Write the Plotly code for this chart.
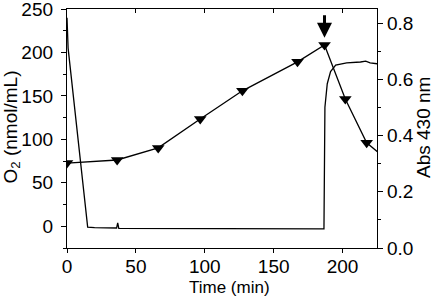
import plotly.graph_objects as go

# O2 electrode trace (left axis)
o2_time = [0, 0.8, 15, 20, 36, 36.8, 37.6, 60, 100, 150, 186.5, 187.2, 188.9, 191.3, 195, 203, 210, 213, 216.8, 220, 225]
o2_conc = [240, 205, -1, -1.5, -2, 4, -2.5, -2.5, -3, -3, -3, 137, 164, 178, 185.5, 188, 188.5, 189, 190, 188, 187]

# Absorbance at 430 nm (right axis)
abs_time = [0, 36.4, 66.2, 96.7, 127.3, 167.3, 186.9, 202, 217.5, 232]
abs_val = [0.302, 0.313, 0.356, 0.459, 0.559, 0.662, 0.722, 0.530, 0.374, 0.315]

x_ticks = [0, 50, 100, 150, 200]
y_ticks = [0, 50, 100, 150, 200, 250]
y_minor = [-25, 25, 75, 125, 175, 225]
y2_ticks = [0, 0.2, 0.4, 0.6, 0.8]
y2_minor = [0.1, 0.3, 0.5, 0.7]

FONT = "Arial, Liberation Sans, sans-serif"
fs = 19
L, R, T, B = 67, 56, 9, 49
W, H = 433, 297
pw, ph = W - L - R, H - T - B

fig = go.Figure()
fig.add_trace(go.Scatter(x=o2_time, y=o2_conc, mode="lines",
                         line=dict(color="black", width=1.3), yaxis="y", xaxis="x",
                         showlegend=False, hoverinfo="skip"))
fig.add_trace(go.Scatter(x=abs_time, y=abs_val, mode="lines+markers",
                         line=dict(color="black", width=1.3),
                         marker=dict(symbol="triangle-down", size=11, color="black"),
                         yaxis="y2", xaxis="x", showlegend=False, hoverinfo="skip"))
# helper trace so that the top mirror axis is drawn (kept outside the visible range)
fig.add_trace(go.Scatter(x=[0, 225], y=[-1000, -1000], mode="lines", xaxis="x2", yaxis="y",
                         line=dict(color="rgba(0,0,0,0)"), showlegend=False, hoverinfo="skip"))

fig.add_annotation(x=186.9, y=0.748, xref="x", yref="y2", ax=0, ay=-24,
                   showarrow=True, arrowhead=2, arrowsize=1, arrowwidth=3,
                   arrowcolor="black", text="")

def px_x(px):
    return (px - L) / pw

def px_y(py):
    return (H - B - py) / ph

fig.add_annotation(text="Time (min)", xref="paper", yref="paper", x=px_x(229), y=px_y(287),
                   showarrow=False, font=dict(size=17), xanchor="center", yanchor="middle")
fig.add_annotation(text="O<sub>2</sub> (nmol/mL)", xref="paper", yref="paper", x=px_x(11.5), y=px_y(127),
                   showarrow=False, font=dict(size=19), textangle=-90, xanchor="center", yanchor="middle")
fig.add_annotation(text="Abs 430 nm", xref="paper", yref="paper", x=px_x(423), y=px_y(128),
                   showarrow=False, font=dict(size=19), textangle=-90, xanchor="center", yanchor="middle")

common = dict(showline=True, linecolor="black", linewidth=1.3, showgrid=False, zeroline=False,
              automargin=False, tickwidth=1.3, tickcolor="black", ticklabeloverflow="allow",
              tickfont=dict(size=fs))

fig.update_layout(
    width=W, height=H,
    margin=dict(l=L, r=R, t=T, b=B, autoexpand=False),
    paper_bgcolor="white", plot_bgcolor="white",
    font=dict(family=FONT, size=fs, color="black"),
    xaxis=dict(range=[0, 225], tickvals=x_ticks, ticks="outside", ticklen=4,
               ticklabelstandoff=-3, **common),
    xaxis2=dict(range=[0, 225], overlaying="x", side="top", anchor="y",
                tickvals=x_ticks, ticks="inside", ticklen=4, showticklabels=False, **common),
    yaxis=dict(range=[-25, 250], tickvals=y_ticks, ticks="outside", ticklen=5,
               ticklabelstandoff=4,
               minor=dict(tickvals=y_minor, ticks="outside", ticklen=3, tickwidth=1.3,
                          tickcolor="black"), **common),
    yaxis2=dict(range=[0, 0.85], overlaying="y", side="right", anchor="x",
                tickvals=y2_ticks, tickformat=".1f", ticks="outside", ticklen=5,
                minor=dict(tickvals=y2_minor, ticks="outside", ticklen=3, tickwidth=1.3,
                           tickcolor="black"), **common),
)

fig.write_html("out.html", config={"displayModeBar": False},
               post_script="document.body.style.margin='0';")
